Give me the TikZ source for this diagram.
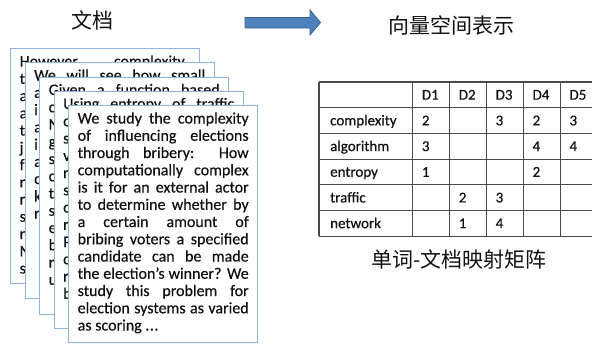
\documentclass[tikz,border=0pt]{standalone}
\usepackage{fontspec}
\setmainfont{Carlito}[FakeBold=0.45]
\newfontfamily\cjk{Noto Sans CJK SC}
\definecolor{paperline}{HTML}{8EB4E3}
\definecolor{arrowfill}{HTML}{4F81BD}
\definecolor{arrowdraw}{HTML}{3A6296}
\definecolor{gridline}{HTML}{4A4A4A}
\definecolor{ink}{HTML}{111111}
\newcommand\J[1]{\makebox[171pt][s]{#1}}
\newcommand\mydots{.\kern0.5pt.\kern0.5pt.}
\tikzset{
  paperbox/.style={draw=paperline, line width=1.4pt, fill=white, minimum width=189pt, anchor=north west, inner sep=0pt},
  ptxt/.style={anchor=base west, inner sep=0pt, font=\fontsize{16}{17.25}\selectfont, text=ink},
  title/.style={font=\cjk\fontsize{21}{24}\selectfont, text=ink, inner sep=0pt},
  cell/.style={anchor=base west, inner sep=0pt, font=\fontsize{15}{18}\selectfont, text=ink},
  gridl/.style={draw=gridline, line width=1.2pt},
}
% #1 name, #2 left, #3 top, #4 height, #5 lines
\newcommand\drawpaper[5]{%
  \node[paperbox, minimum height=#4pt] (#1) at (#2,#3) {};
  \foreach \ptext [count=\k] in {#5} {
    \node[ptxt] (#1l\k) at ({#2+9.5},{#3+18.5+17.25*(\k-1)}) {\ptext};
  }
}
\begin{document}
\begin{tikzpicture}[x=1pt,y=-1pt]
\useasboundingbox[fill=white] (0,0) rectangle (592,343);

% titles
\node[title] (t1) at (92,20) {文档};
\node[title] (t2) at (451,25) {向量空间表示};
\node[title] (t3) at (459,259) {单词-文档映射矩阵};

% block arrow
\path[fill=arrowfill, draw=arrowdraw, line width=0.8pt]
  (245,17.5) -- (310,17.5) -- (310,10) -- (320.5,22.5) -- (310,35) -- (310,28) -- (245,28) -- cycle;

% stacked documents
\drawpaper{pa}{10}{48}{235}{{\makebox[165pt][s]{However complexity}},t,a,a,t,j,f,r,r,s,r,N,s}
\drawpaper{pb}{24.5}{62}{236}{{\J{We will see how small}},a,i,a,i,a,c,k,r}
\drawpaper{pc}{39}{76.5}{237}{{\J{Given a function based}},c,N,g,s,c,t,s,e,b,r,u}
\drawpaper{pd}{53.5}{90.5}{237}{{\J{Using entropy of traffic}},c,s,v,r,s,c,r,P,c,r,b}
\drawpaper{pe}{68}{105}{237}{{\J{We study the complexity}},{\J{of influencing elections}},{\J{through bribery: How}},{\J{computationally complex}},{\J{is it for an external actor}},{\J{to determine whether by}},{\J{a certain amount of}},{\J{bribing voters a specified}},{\J{candidate can be made}},{\J{the election's winner? We}},{\J{study this problem for}},{\J{election systems as varied}},{as scoring \mydots}}

% table grid
\foreach \r in {0,...,6} {
  \draw[gridl] (319,{82+25.7*\r}) -- (600,{82+25.7*\r});
}
\foreach \cx in {319,412.7,449.6,486.5,523.4,560.3} {
  \draw[gridl] (\cx,82) -- (\cx,236.2);
}
% headers
\foreach \c in {1,...,5} {
  \node[cell] (h\c) at ({412.7+36.9*(\c-1)+9},{82+12.85+4.8}) {D\c};
}
% row labels
\foreach \w [count=\r] in {complexity,algorithm,entropy,traffic,network} {
  \node[cell] (w\r) at (330,{82+25.7*\r+12.85+4.8}) {\w};
}
% values
\foreach \r/\c/\v in {1/1/2,1/3/3,1/4/2,1/5/3,2/1/3,2/4/4,2/5/4,3/1/1,3/4/2,4/2/2,4/3/3,5/2/1,5/3/4} {
  \node[cell] (v\r\c) at ({412.7+36.9*(\c-1)+9},{82+25.7*\r+12.85+4.8}) {\v};
}
\end{tikzpicture}
\end{document}
